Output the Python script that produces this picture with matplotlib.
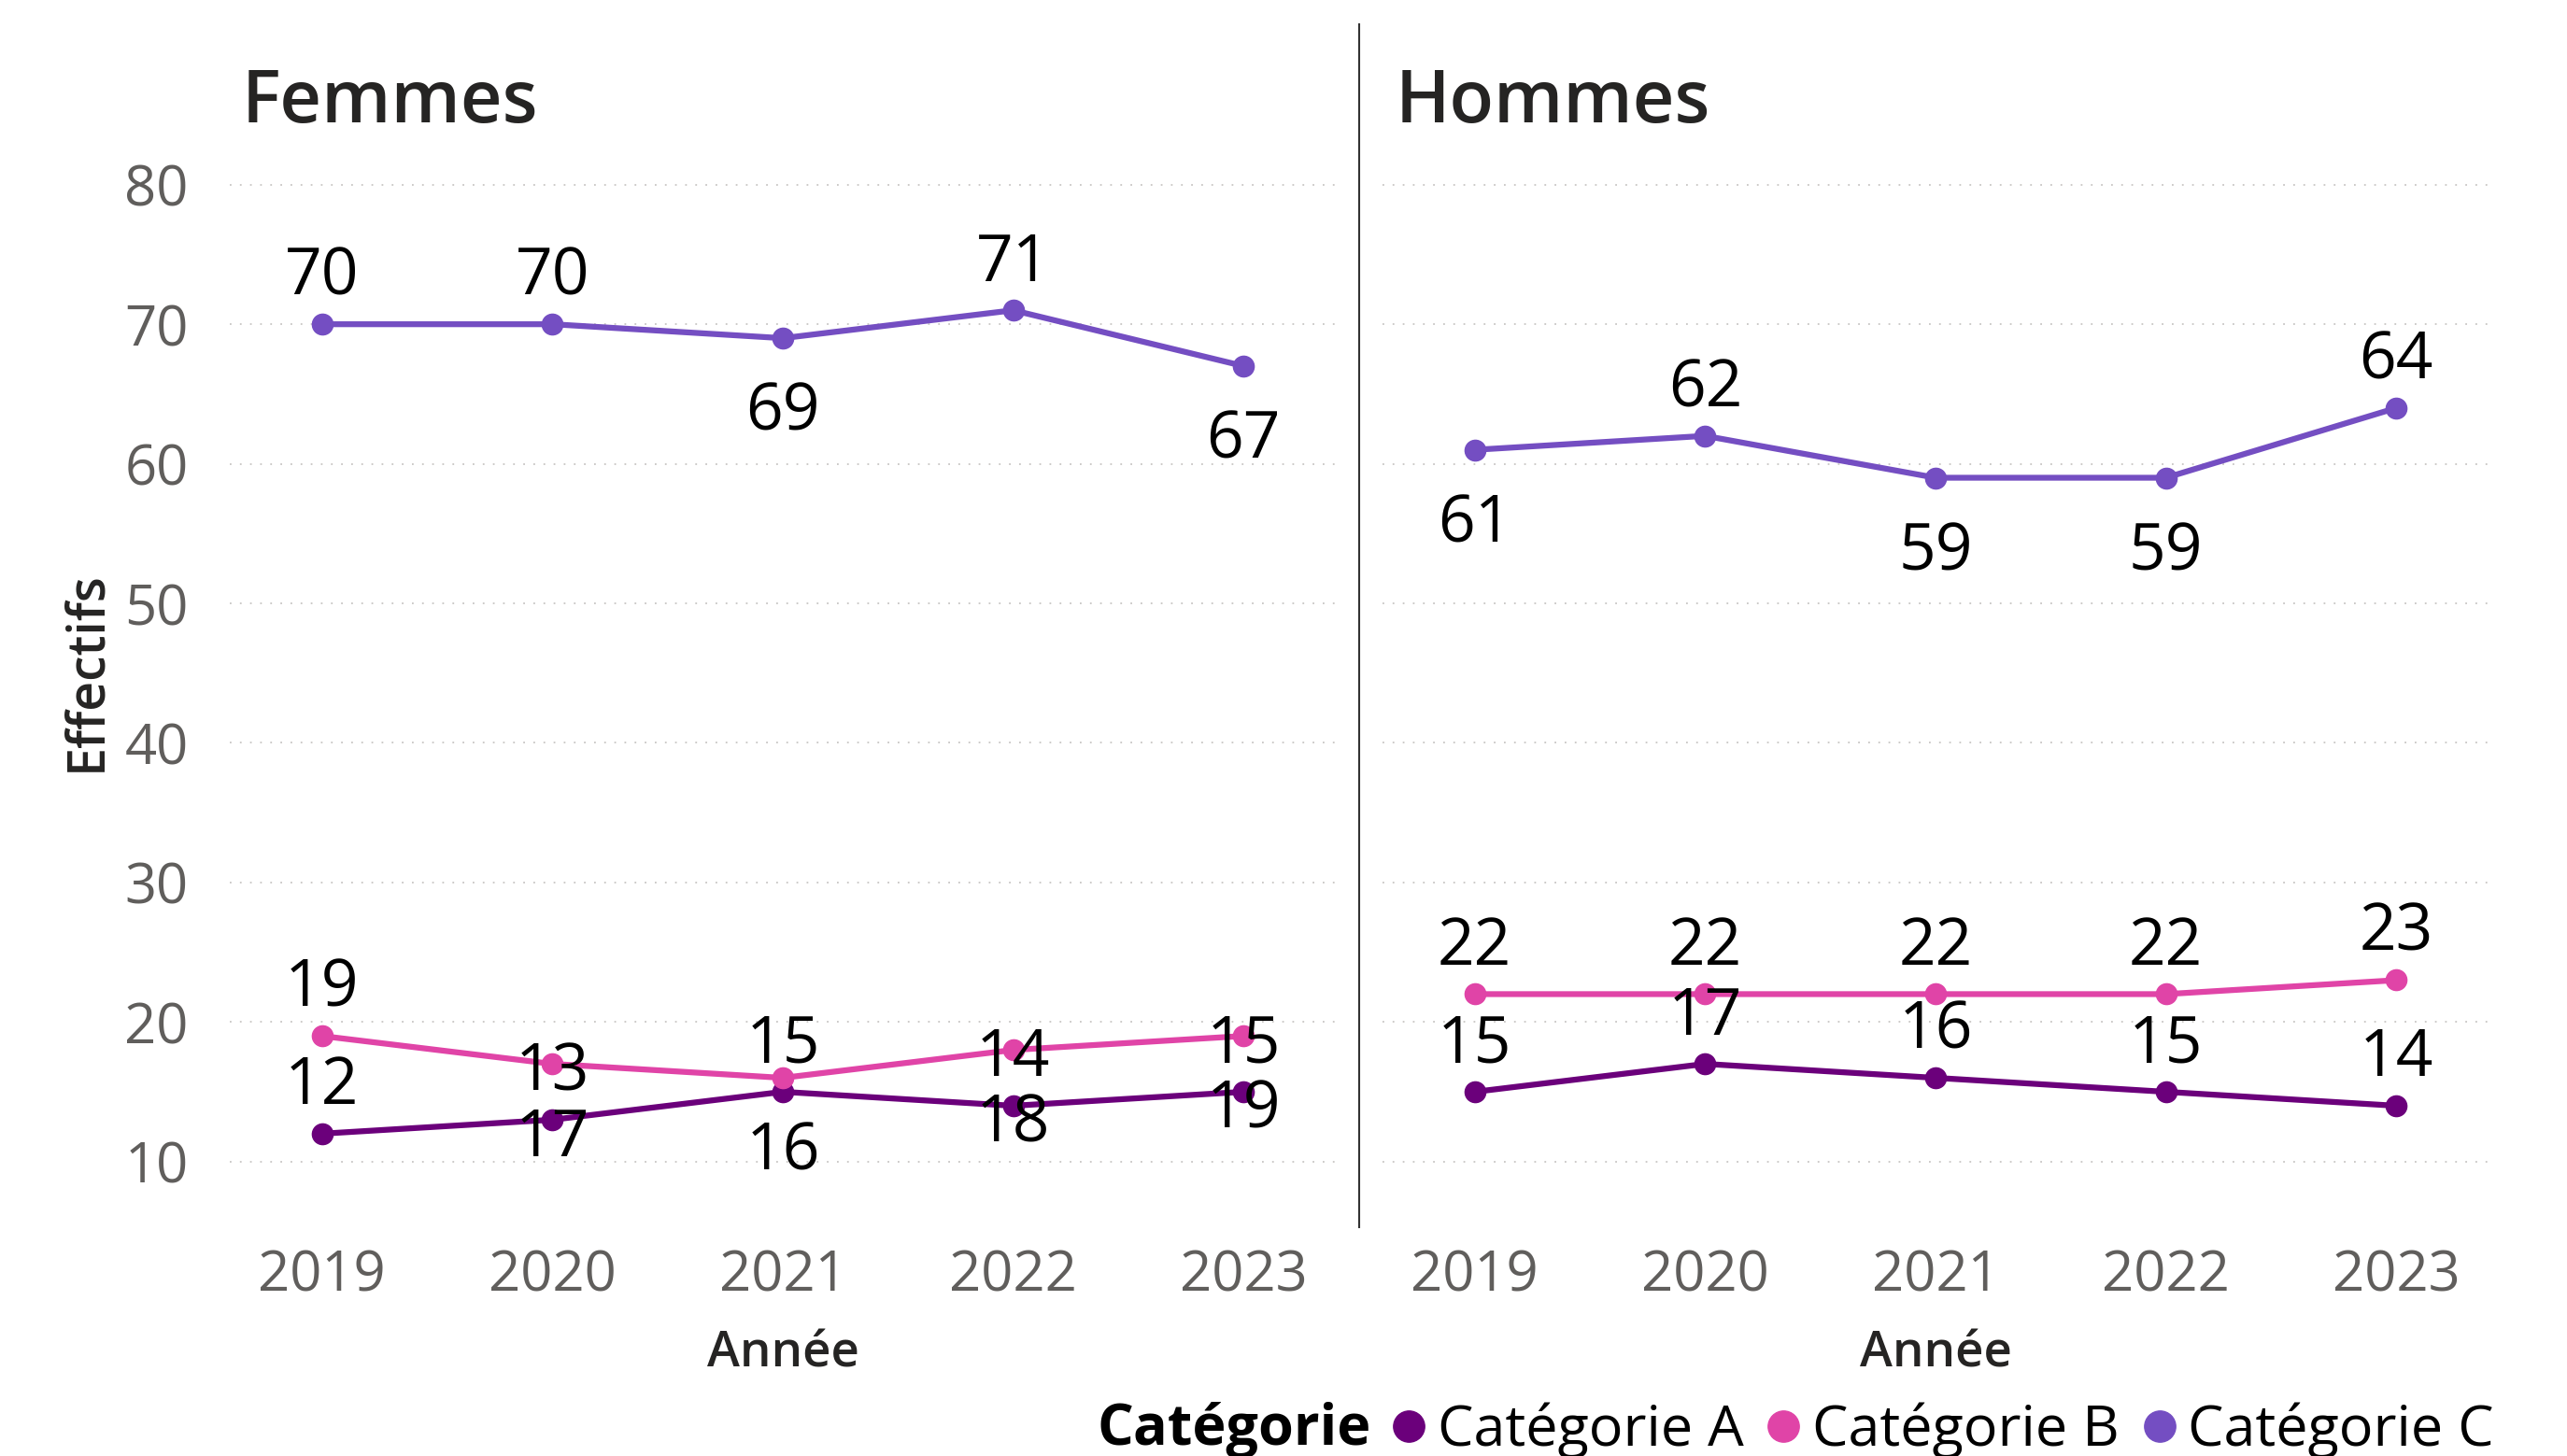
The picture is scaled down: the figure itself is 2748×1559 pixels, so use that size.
import matplotlib
matplotlib.use("Agg")
import matplotlib.pyplot as plt
from matplotlib.lines import Line2D

plt.rcParams["font.family"] = ["Open Sans", "DejaVu Sans"]

# data
years = ["2019", "2020", "2021", "2022", "2023"]
categories = ["Catégorie A", "Catégorie B", "Catégorie C"]
colors = ["#6B007B", "#E044A7", "#744EC2"]

femmes_a = [12, 13, 15, 14, 15]
femmes_b = [19, 17, 16, 18, 19]
femmes_c = [70, 70, 69, 71, 67]
hommes_a = [15, 17, 16, 15, 14]
hommes_b = [22, 22, 22, 22, 23]
hommes_c = [61, 62, 59, 59, 64]

# label placement: 1 = above the point, -1 = below
femmes_pos_a = [1, 1, 1, 1, 1]
femmes_pos_b = [1, -1, -1, -1, -1]
femmes_pos_c = [1, 1, -1, 1, -1]
hommes_pos_a = [1, 1, 1, 1, 1]
hommes_pos_b = [1, 1, 1, 1, 1]
hommes_pos_c = [-1, 1, -1, -1, 1]

panels = [
    ("Femmes", [femmes_a, femmes_b, femmes_c], [femmes_pos_a, femmes_pos_b, femmes_pos_c]),
    ("Hommes", [hommes_a, hommes_b, hommes_c], [hommes_pos_a, hommes_pos_b, hommes_pos_c]),
]

W, H = 2748, 1559
fig = plt.figure(figsize=(W / 100, H / 100), dpi=100)

TXT = "#252423"
TICK = "#605E5C"
ax_left = [246 / W, 1480 / W]
ax_w = 1184 / W
ax_bottom = 1 - 1314 / H
ax_h = (1314 - 123) / H

x = list(range(len(years)))
for k, (name, series, positions) in enumerate(panels):
    ax = fig.add_axes([ax_left[k], ax_bottom, ax_w, ax_h])
    for vals, pos, col in zip(series, positions, colors):
        ax.plot(x, vals, color=col, lw=4.5, marker="o", ms=16, zorder=3)
        for xi, v, p in zip(x, vals, pos):
            dy = 22.7 if p > 0 else -70.9
            ax.annotate(str(v), (xi, v), xytext=(0, dy), textcoords="offset points",
                        ha="center", va="baseline", fontsize=50, color="black", zorder=4)
    ax.set_xlim(-0.4, 4.4)
    ax.set_ylim(5.3, 85)
    ax.set_yticks(range(10, 81, 10))
    ax.set_xticks(x)
    ax.set_xticklabels(years)
    ax.grid(axis="y", color="#C8C6C4", lw=1.3, ls=(0, (1, 5)))
    ax.set_axisbelow(True)
    for s in ax.spines.values():
        s.set_visible(False)
    ax.tick_params(length=0, labelsize=43, labelcolor=TICK)
    ax.tick_params(axis="x", pad=16)
    ax.tick_params(axis="y", pad=32)
    if k == 1:
        ax.tick_params(axis="y", labelleft=False)
    else:
        ax.set_ylabel("Effectifs", fontsize=40, color=TXT, fontweight="semibold")
        ax.yaxis.set_label_coords(-0.105, 0.5)
    ax.set_xlabel("Année", fontsize=38, color=TXT, fontweight="semibold", labelpad=20)
    fig.text([259 / W, 1494 / W][k], 1 - 131 / H, name, fontsize=56, color=TXT,
             fontweight="semibold", ha="left", va="baseline")

# divider between the two panels
fig.add_artist(Line2D([1455 / W, 1455 / W], [1 - 1314 / H, 1 - 26 / H],
                      color="#333333", lw=1.5))

# legend
handles = [Line2D([], [], color=c, marker="o", ls="none", ms=24) for c in colors]
fig.text(1175 / W, 1 - 1532 / H, "Catégorie", fontsize=44, fontweight="bold",
         color="black", ha="left", va="center")
fig.legend(handles, categories, loc="center left", bbox_to_anchor=(1490 / W, 1 - 1532 / H),
           ncol=3, frameon=False, fontsize=44, handlelength=0.6, handletextpad=0.2,
           columnspacing=0.4, borderpad=0, borderaxespad=0)

fig.savefig("out.png", dpi=100)
